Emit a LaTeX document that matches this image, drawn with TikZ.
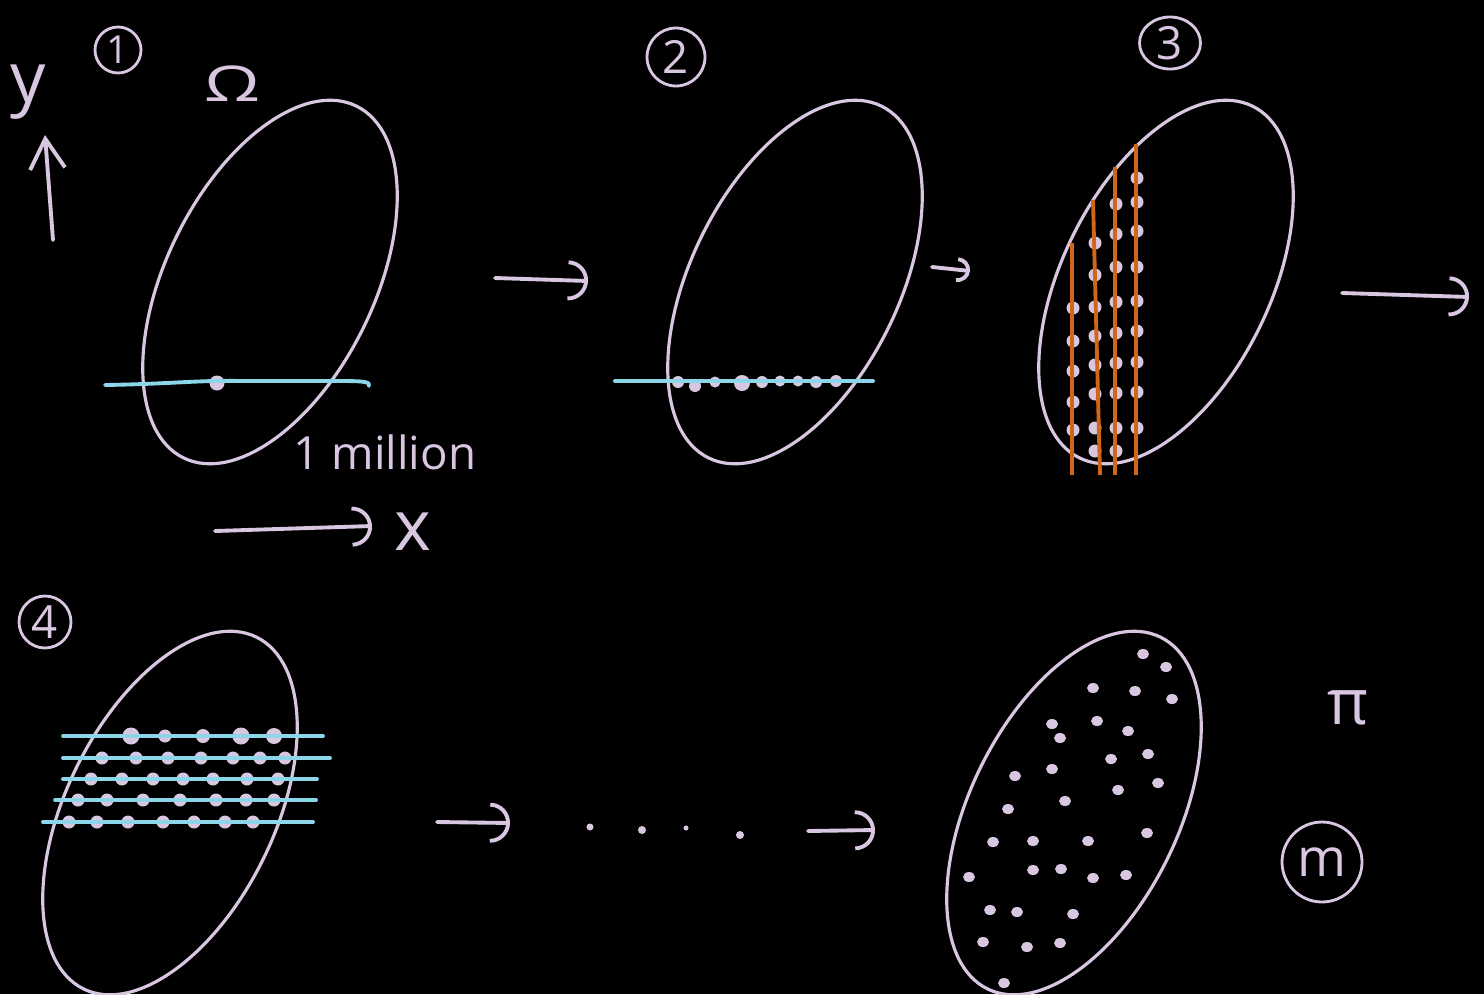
\documentclass[tikz,border=0pt]{standalone}
\usepackage{fontspec}
\setmainfont{Open Sans}
\usetikzlibrary{arrows.meta,shapes.geometric}

\definecolor{lilac}{HTML}{D9C7E2}
\definecolor{sky}{HTML}{8DD5E8}
\definecolor{rust}{HTML}{CF6618}

\begin{document}
\begin{tikzpicture}[x=0.02cm, y=-0.02cm,
    outline/.style={draw=lilac, line width=1.8pt},
    stroke/.style={lilac, line width=2.2pt, line cap=round},
    harrow/.style={stroke, -{Arc Barb[length=4mm, width=8mm]}},
    slice/.style={sky, line width=2.2pt, line cap=round},
    cut/.style={rust, line width=2.2pt},
    pt/.style={fill=lilac},
    circled/.style={circle, draw=lilac, line width=1.6pt, text=lilac, inner sep=0pt, font=\fontsize{22}{24}\selectfont},
    hand/.style={text=lilac, inner sep=0pt, font=\fontsize{30}{34}\selectfont}
]
\fill[black] (0,0) rectangle (1484,994);
\clip (0,0) rectangle (1484,994);

% step 1: one line, one point
\node[circled, minimum size=0.92cm] (n1) at (118,50) {1};
\node[hand, font=\fontsize{28}{32}\selectfont, xscale=1.45] (omega) at (232,84) {Ω};
\node[hand, font=\fontsize{40}{44}\selectfont] (ylab) at (28,92) {y};
\node[hand, font=\fontsize{40}{44}\selectfont] (xlab) at (413,532) {x};
\node[hand, font=\fontsize{26}{30}\selectfont] (million) at (385,452) {1 million};
\coordinate (ybot) at (53,240);
\coordinate (ytop) at (45,135);
\coordinate (xleft) at (215,531);
\coordinate (xright) at (372,526);
\draw[stroke, -{Straight Barb[length=6mm, width=7mm]}] (ybot) -- (ytop);
\draw[harrow] (xleft) -- (xright);
\coordinate (c1) at (270,282);
\draw[outline, rotate around={63.8:(c1)}] (c1) ellipse [x radius=196, y radius=104];
\fill[pt] (217,383) circle (7.5);
\draw[slice] (105,385) .. controls (170,384) and (200,380) .. (240,381) -- (340,381) .. controls (366,381) and (370,382) .. (369,386);
\coordinate (a1s) at (495,278);
\coordinate (a1e) at (588,281);
\draw[harrow] (a1s) -- (a1e);

% step 2: more points on the line
\node[circled, minimum size=1.16cm, font=\fontsize{26}{28}\selectfont] (n2) at (676,57) {2};
\coordinate (c2) at (795,282);
\draw[outline, rotate around={63.8:(c2)}] (c2) ellipse [x radius=196, y radius=104];
\foreach \x/\y/\r in {678/382/6, 695/386/6, 715/382/5.5, 742/383/8, 762/382/6, 780/381/5.5, 798/381/5.5, 816/382/6, 836/381/6}
    \fill[pt] (\x,\y) circle (\r);
\draw[slice] (615,381) -- (873,381);
\coordinate (a2s) at (932,267);
\coordinate (a2e) at (970,271);
\draw[stroke, -{Arc Barb[length=2.6mm, width=5mm]}] (a2s) -- (a2e);

% step 3: vertical lines
\node[circled, ellipse, minimum width=1.22cm, minimum height=1.04cm, font=\fontsize{26}{28}\selectfont] (n3) at (1170,43) {3};
\coordinate (c3) at (1166,282);
\draw[outline, rotate around={63.8:(c3)}] (c3) ellipse [x radius=196, y radius=104];
\foreach \y in {308,341,371,402,430}
    \fill[pt] (1073,\y) circle (6.5);
\foreach \y in {243,275,307,336,365,394,428,451}
    \fill[pt] (1095,\y) circle (6.5);
\foreach \y in {204,234,267,302,333,363,393,428,451}
    \fill[pt] (1116,\y) circle (6.5);
\foreach \y in {178,202,231,267,301,331,362,392,428}
    \fill[pt] (1137,\y) circle (6.5);
\draw[cut] (1072,243) -- (1072,475);
\draw[cut] (1093,200) -- (1100,475);
\draw[cut] (1115,167) -- (1115,475);
\draw[cut] (1136,144) -- (1136,475);
\coordinate (a3s) at (1342,293);
\coordinate (a3e) at (1469,297);
\draw[harrow] (a3s) -- (a3e);

% step 4: horizontal lines
\node[circled, minimum size=1.04cm, font=\fontsize{26}{28}\selectfont] (n4) at (45,622) {4};
\coordinate (c4) at (170,813);
\draw[outline, rotate around={63.8:(c4)}] (c4) ellipse [x radius=196, y radius=104];
\foreach \x/\r in {131/8.5, 165/6.5, 203/7, 241/8.5, 274/8}
    \fill[pt] (\x,736) circle (\r);
\foreach \x in {102,136,168,201,233,260,285}
    \fill[pt] (\x,758) circle (6.5);
\foreach \x in {91,122,153,183,213,247,278}
    \fill[pt] (\x,779) circle (6.5);
\foreach \x in {78,107,143,180,216,246,274}
    \fill[pt] (\x,800) circle (6.5);
\foreach \x in {69,97,128,163,194,225,253}
    \fill[pt] (\x,822) circle (6.5);
\draw[slice] (63,736) -- (323,736);
\draw[slice] (63,758) -- (330,758);
\draw[slice] (63,779) -- (317,779);
\draw[slice] (55,800) -- (316,800);
\draw[slice] (43,822) -- (313,822);
\coordinate (a4s) at (437,822);
\coordinate (a4e) at (510,823);
\draw[harrow] (a4s) -- (a4e);

% and so on ...
\foreach \x/\y/\r in {590/827/3.5, 642/830/4, 686/828/2.5, 740/835/4}
    \fill[pt] (\x,\y) circle (\r);
\coordinate (a5s) at (808,831);
\coordinate (a5e) at (875,830);
\draw[harrow] (a5s) -- (a5e);

% step m: scattered points
\coordinate (c5) at (1074,813);
\draw[outline, rotate around={63.8:(c5)}] (c5) ellipse [x radius=196, y radius=104];
\foreach \x/\y in {1143/654, 1166/667, 1093/688, 1135/691, 1172/699, 1052/724, 1097/721,
    1128/731, 1060/738, 1111/759, 1148/754, 1015/776, 1052/769, 1158/783, 1118/790,
    1065/801, 1008/809, 1147/833, 993/842, 1033/841, 1088/841, 1033/870, 1061/869,
    1093/878, 1126/875, 969/877, 990/910, 1017/912, 1073/914, 983/942, 1027/947,
    1060/943, 1004/983}
    \fill[pt] (\x,\y) ellipse [x radius=6, y radius=5];
\node[hand, font=\fontsize{36}{40}\selectfont] (pi) at (1348,708) {π};
\node[circled, minimum size=1.6cm, font=\fontsize{30}{32}\selectfont] (nm) at (1322,862) {m};
\end{tikzpicture}
\end{document}
